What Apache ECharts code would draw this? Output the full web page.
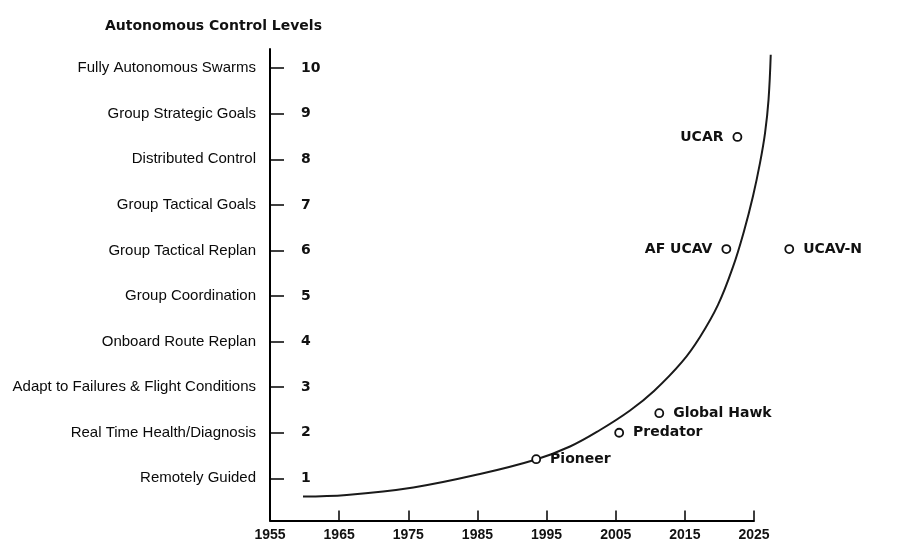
<!DOCTYPE html>
<html>
<head>
<meta charset="utf-8">
<script src="https://cdn.jsdelivr.net/npm/echarts@6/dist/echarts.min.js"></script>
<style>html,body{margin:0;padding:0;background:#fff;}#c{width:898px;height:546px;}</style>
</head>
<body>
<div id="c"></div>
<script>
// Level names (level 1..10)
const levelNames = [
  'Remotely Guided',
  'Real Time Health/Diagnosis',
  'Adapt to Failures & Flight Conditions',
  'Onboard Route Replan',
  'Group Coordination',
  'Group Tactical Replan',
  'Group Tactical Goals',
  'Distributed Control',
  'Group Strategic Goals',
  'Fully Autonomous Swarms'
];
const levelTicks = [1, 2, 3, 4, 5, 6, 7, 8, 9, 10];
const yearTicks = [1955, 1965, 1975, 1985, 1995, 2005, 2015, 2025];

// Trend curve (year, level)
const curveYears  = [1959.77, 1966.09, 1975.73, 1985.37, 1993.47, 1998.39, 2002.73, 2007.07, 2010.54, 2014.59, 2017.19, 2019.79, 2021.96, 2023.56, 2024.86, 2025.87, 2026.60, 2027.10, 2027.42];
const curveLevels = [0.600, 0.634, 0.799, 1.095, 1.414, 1.699, 2.061, 2.489, 2.917, 3.554, 4.102, 4.805, 5.639, 6.429, 7.197, 7.921, 8.580, 9.304, 10.292];

// Vehicles
const vehicleNames  = ['Pioneer', 'Predator', 'Global Hawk', 'AF UCAV', 'UCAV-N', 'UCAR'];
const vehicleYears  = [1993.5, 2005.5, 2011.3, 2021.0, 2030.1, 2022.6];
const vehicleLevels = [1.42, 2.00, 2.43, 6.03, 6.03, 8.49];
const vehicleLabelPos = ['right', 'right', 'right', 'left', 'right', 'left'];

const chart = echarts.init(document.getElementById('c'), null, {renderer: 'canvas'});

const yMin = 0.075, yMax = 10.42;
const xMin = 1955, xMax = 2025, xMaxData = 2040;
const pxPerYear = 484 / (xMax - xMin);

const option = {
  backgroundColor: '#ffffff',
  animation: false,
  title: {
    text: 'Autonomous Control Levels',
    left: 100, top: 14,
    textStyle: {fontFamily: 'DejaVu Sans', fontWeight: 'bold', fontSize: 14, color: '#111'}
  },
  grid: [
    {left: 270, top: 49, width: 484, bottom: 25.5, containLabel: false},
    {left: 270, top: 49, width: pxPerYear * (xMaxData - xMin), bottom: 25.5, containLabel: false}
  ],
  xAxis: [
    {
      gridIndex: 0, type: 'value', min: xMin, max: xMax, interval: 10,
      axisLine: {show: true, lineStyle: {color: '#000', width: 2}},
      axisTick: {show: true, inside: true, length: 10, lineStyle: {color: '#000', width: 1.5}, customValues: yearTicks},
      axisLabel: {
        show: true, margin: 8, color: '#111',
        fontFamily: 'Liberation Sans', fontWeight: 'bold', fontSize: 14,
        customValues: yearTicks,
        formatter: function (v) { return String(v); }
      },
      splitLine: {show: false}
    },
    {
      gridIndex: 1, type: 'value', min: xMin, max: xMaxData, show: false
    }
  ],
  yAxis: [
    {
      gridIndex: 0, type: 'value', min: yMin, max: yMax, position: 'left',
      axisLine: {show: true, onZero: false, lineStyle: {color: '#000', width: 2}},
      axisTick: {show: true, inside: true, length: 14, lineStyle: {color: '#000', width: 1.5}, customValues: levelTicks},
      axisLabel: {
        show: true, inside: true, margin: 31, color: '#111',
        fontFamily: 'DejaVu Sans', fontWeight: 'bold', fontSize: 14,
        customValues: levelTicks
      },
      splitLine: {show: false}
    },
    {
      gridIndex: 0, type: 'value', min: yMin, max: yMax, position: 'left',
      axisLine: {show: false},
      axisTick: {show: false},
      axisLabel: {
        show: true, margin: 14, color: '#0a0a0a',
        fontFamily: 'Liberation Sans', fontSize: 15,
        customValues: levelTicks,
        formatter: function (v) { return levelNames[Math.round(v) - 1] || ''; }
      },
      splitLine: {show: false}
    },
    {
      gridIndex: 1, type: 'value', min: yMin, max: yMax, show: false
    }
  ],
  series: [
    {
      type: 'line',
      xAxisIndex: 1, yAxisIndex: 2,
      data: curveYears.map((y, i) => [y, curveLevels[i]]),
      smooth: 0.4,
      showSymbol: false,
      lineStyle: {color: '#1a1a1a', width: 2},
      z: 2
    },
    {
      type: 'scatter',
      xAxisIndex: 1, yAxisIndex: 2,
      data: vehicleYears.map((y, i) => ({
        value: [y, vehicleLevels[i]],
        name: vehicleNames[i],
        label: {position: vehicleLabelPos[i]}
      })),
      symbol: 'circle',
      symbolSize: 8,
      itemStyle: {color: '#fff', borderColor: '#111', borderWidth: 1.8, opacity: 1},
      label: {
        show: true, distance: 9, formatter: '{b}', color: '#111',
        fontFamily: 'DejaVu Sans', fontWeight: 'bold', fontSize: 14
      },
      z: 3
    }
  ]
};
chart.setOption(option);
</script>
</body>
</html>
